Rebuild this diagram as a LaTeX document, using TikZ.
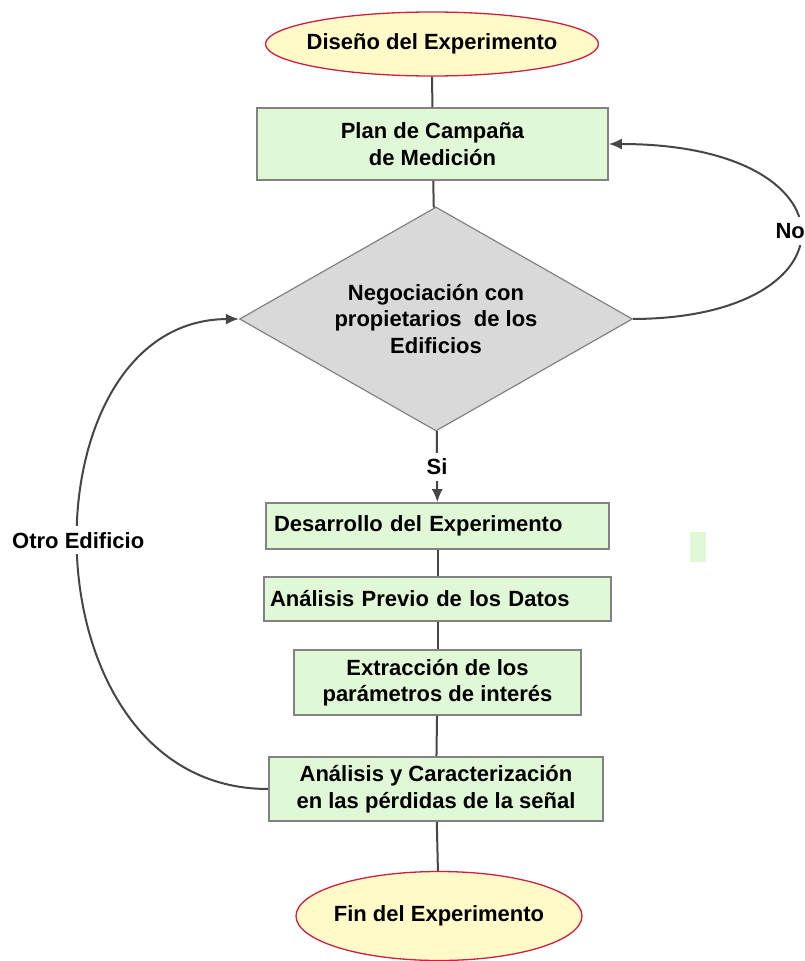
\documentclass[tikz,border=0pt]{standalone}
\usepackage{fontspec}
\setmainfont{Liberation Sans}
\usetikzlibrary{shapes.geometric,arrows.meta}

\definecolor{boxgreen}{RGB}{224,248,214}
\definecolor{capyellow}{RGB}{255,250,200}
\definecolor{capred}{RGB}{208,30,64}
\definecolor{askgray}{RGB}{217,217,217}
\definecolor{linegray}{RGB}{70,70,70}
\definecolor{rimgray}{RGB}{130,130,130}

\tikzset{
  endcap/.style={ellipse, draw=capred, fill=capyellow, line width=1.3pt, inner xsep=-8pt, inner ysep=0pt},
  task/.style={rectangle, draw=rimgray, fill=boxgreen, line width=1.6pt, inner sep=0pt, align=center},
  ask/.style={diamond, aspect=1.75, draw=rimgray, fill=askgray, line width=1.2pt, inner sep=0pt, align=center},
  tag/.style={fill=white, text=black, inner xsep=3pt, inner ysep=6pt},
}

\begin{document}
\begin{tikzpicture}[x=1pt, y=-1pt, font=\fontsize{22}{26.5}\selectfont\bfseries,
    >={Latex[length=13pt,width=11pt]}, every edge/.style={draw, linegray, line width=2pt}]
    \useasboundingbox (0,0) rectangle (804,961);

    \node[endcap, minimum width=333pt, minimum height=64pt] (v1) at (432,44) {Diseño del Experimento};
    \node[task, minimum width=351pt, minimum height=72pt] (v2) at (432.5,144) {Plan de Campaña\\de Medición};
    \node[ask, minimum width=393pt, minimum height=224pt] (v3) at (436,319) {Negociación con\\propietarios\ \ de los\\Edificios};
    \node[task, minimum width=343pt, minimum height=46pt, text width=327pt, align=left] (v4) at (437.5,526) {Desarrollo del Experimento};
    \node[task, minimum width=347pt, minimum height=44pt, text width=335pt, align=left] (v5) at (437.5,599) {Análisis Previo de los Datos};
    \node[task, minimum width=287pt, minimum height=65pt] (v6) at (437.5,682.5) {Extracción de los\\parámetros de interés};
    \node[task, minimum width=334pt, minimum height=64pt] (v7) at (436,789) {Análisis y Caracterización\\en las pérdidas de la señal};
    \node[endcap, minimum width=286pt, minimum height=89pt] (v8) at (439,916) {Fin del Experimento};

    \fill[boxgreen] (690,532) rectangle (706,562);

    \draw  (v1) edge (v2);
    \draw  (v2) edge (v3);
    \draw  (v3) edge[->] node[tag, midway] (n2) {Si} (v4);
    \draw  (v4) edge (v5);
    \draw  (v5) edge (v6);
    \draw  (v6) edge (v7);
    \draw  (v7) edge (v8);

    \draw[linegray, line width=2pt, ->] (v3.east) .. controls (860,318) and (860,144) .. (v2.east)
        node[tag, pos=0.5, xshift=-10pt] (n1) {No};
    \draw[linegray, line width=2pt, ->] (v7.west) .. controls (20,789) and (20,320) .. (v3.west)
        node[tag, pos=0.52] (n3) {Otro Edificio};
\end{tikzpicture}
\end{document}
